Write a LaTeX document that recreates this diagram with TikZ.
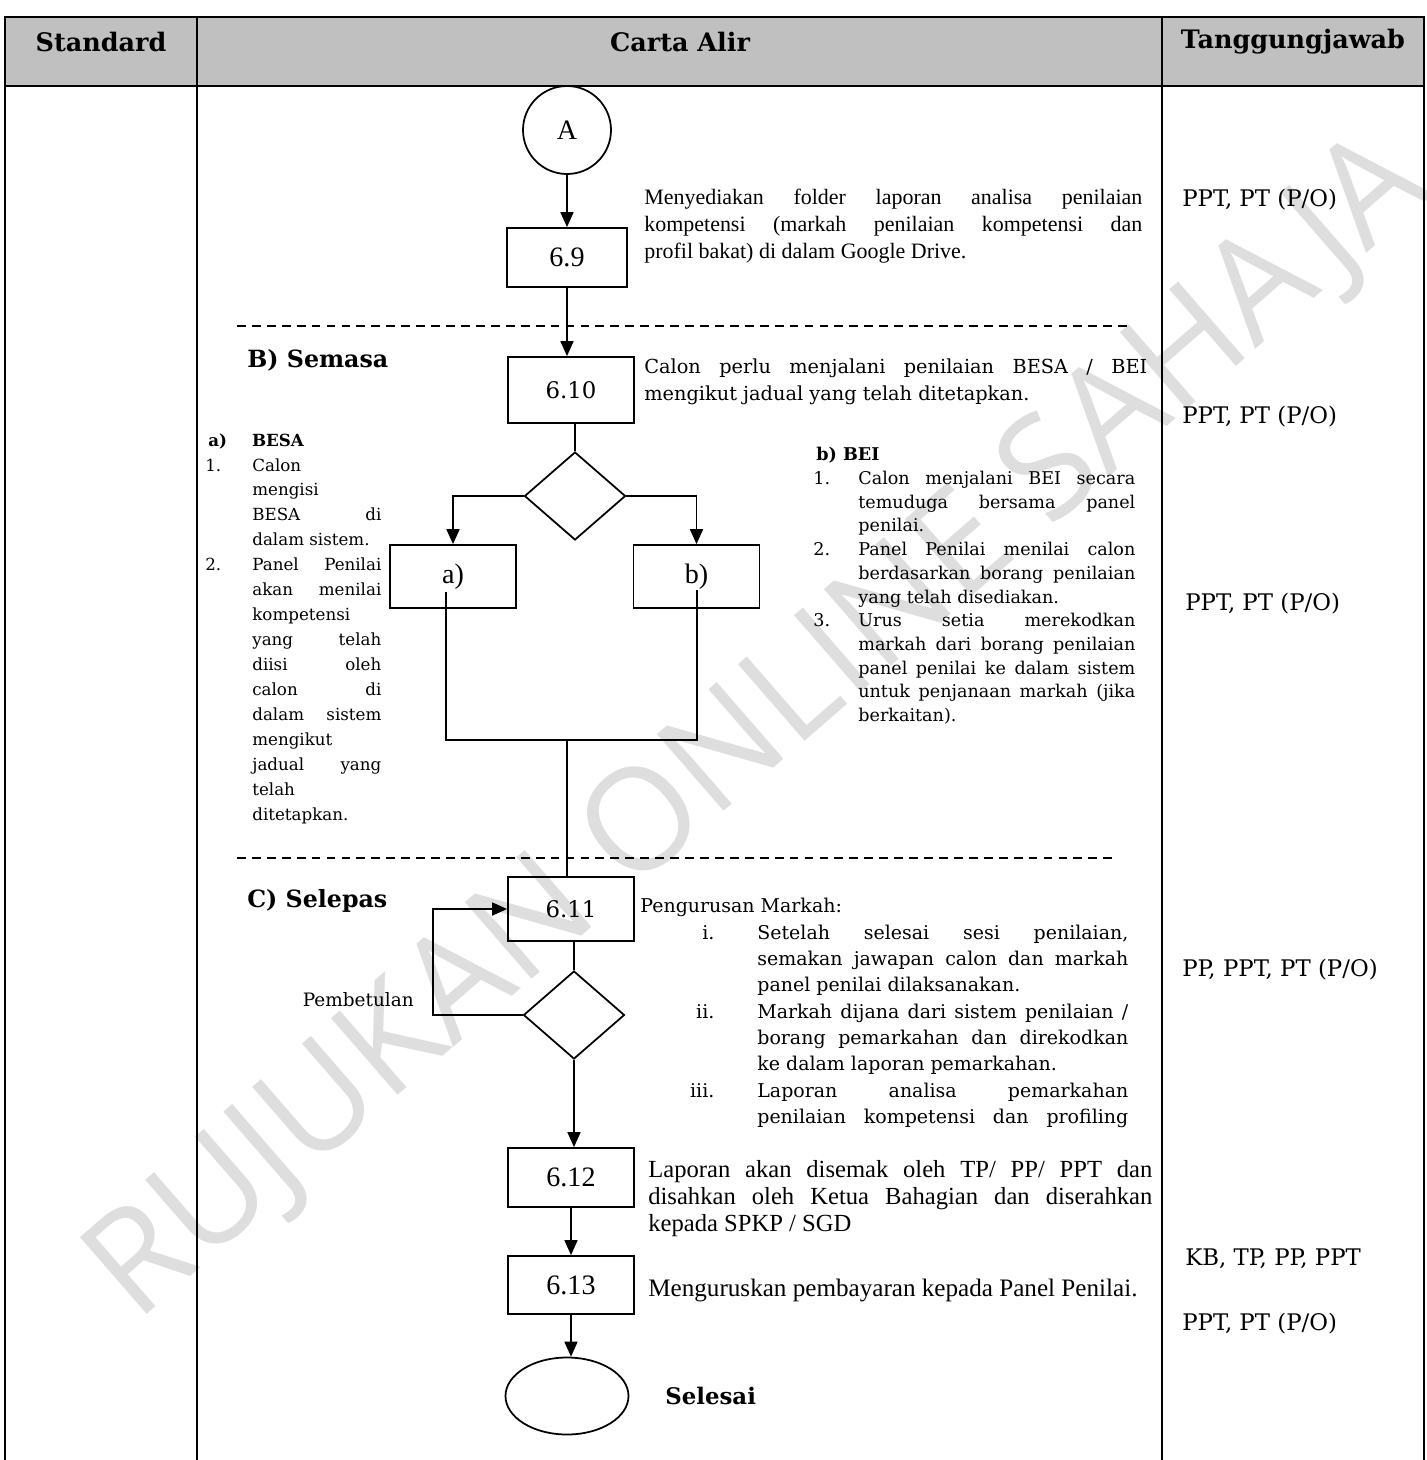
\documentclass[tikz,border=0pt]{standalone}
\usepackage{fontspec}
\setmainfont{DejaVu Serif}
\newfontfamily\tms{Liberation Serif}
\newfontfamily\wmk{Open Sans}
\usetikzlibrary{shapes.geometric,arrows.meta}

\definecolor{hdrgray}{HTML}{C0C0C0}
\definecolor{wmgray}{HTML}{DEDEDE}

\hyphenpenalty=10000
\exhyphenpenalty=10000

\newcommand{\numitem}[2]{\par\hangindent=#1\hangafter=1\noindent\makebox[#1][l]{#2}}
\newcommand{\romitem}[1]{\par\hangindent=2.34cm\hangafter=1\noindent\makebox[2.34cm][l]{\makebox[1.48cm][r]{#1}}}

\tikzset{
  flow/.style={line width=1pt},
  arr/.style={flow,-{Triangle[length=0.3cm,width=0.26cm]}},
  box/.style={draw,flow,minimum width=2.52cm,minimum height=1.2cm,inner sep=0pt,font=\tms\fontsize{16}{18}\selectfont},
  dec/.style={draw,flow,diamond,minimum width=2.02cm,minimum height=1.76cm,inner sep=0pt},
  desc/.style={anchor=north west,inner sep=0pt,align=justify},
  resp/.style={anchor=west,inner sep=0pt,font=\fontsize{13}{15}\selectfont},
  sect/.style={anchor=west,inner sep=0pt,font=\bfseries\fontsize{13.5}{16}\selectfont},
  hdr/.style={font=\bfseries\fontsize{14.5}{17}\selectfont},
  sepline/.style={line width=0.9pt,dash pattern=on 5pt off 3.5pt},
  grid/.style={line width=1.6pt},
}

\begin{document}
\begin{tikzpicture}
        \useasboundingbox (0,0) rectangle (28.54,-29.2);
        % watermark
        \node[rotate=41,text=wmgray,font=\wmk\fontsize{81}{81}\selectfont] (wm) at (15.2,-14.6) {RUJUKAN ONLINE SAHAJA};

        % table frame
        \fill[hdrgray] (0.1,-0.34) rectangle (28.48,-1.72);
        \draw[grid] (0.1,-29.4) -- (0.1,-0.34) -- (28.48,-0.34) -- (28.48,-29.4);
        \draw[grid] (0.1,-1.72) -- (28.48,-1.72);
        \draw[grid] (3.94,-0.34) -- (3.94,-29.4);
        \draw[grid] (23.24,-0.34) -- (23.24,-29.4);
        \node[hdr] (hstd) at (2.02,-0.84) {Standard};
        \node[hdr] (hcarta) at (13.6,-0.84) {Carta Alir};
        \node[hdr] (htgj) at (25.86,-0.84) {Tanggungjawab};

        \draw[sepline] (4.74,-6.52) -- (22.54,-6.52);
        \draw[sepline] (4.74,-17.16) -- (22.36,-17.16);

        % flow
        \node[circle,draw,flow,minimum size=1.76cm,inner sep=0pt,font=\tms\fontsize{16}{18}\selectfont] (a0) at (11.34,-2.6) {A};
        \node[box,minimum height=1.18cm,minimum width=2.4cm] (s69) at (11.34,-5.15) {6.9};
        \node[box,minimum height=1.32cm,font=\fontsize{13}{15}\selectfont] (s610) at (11.42,-7.8) {6.10};
        \node[dec] (q1) at (11.5,-9.92) {};
        \node[box,minimum height=1.26cm] (ba) at (9.06,-11.53) {a)};
        \node[box,minimum height=1.26cm] (bb) at (13.93,-11.53) {b)};
        \coordinate (aout) at (8.92,-11.84);
        \coordinate (bout) at (13.94,-11.8);
        \coordinate (mrg) at (11.34,-14.8);
        \node[box,minimum height=1.28cm,font=\fontsize{13}{15}\selectfont] (s611) at (11.42,-18.18) {6.11};
        \node[dec] (q2) at (11.48,-20.3) {};
        \node[box,minimum height=1.18cm] (s612) at (11.42,-23.55) {6.12};
        \node[box,minimum height=1.16cm] (s613) at (11.42,-25.7) {6.13};
        \node[ellipse,draw,flow,minimum width=2.46cm,minimum height=1.54cm] (fin) at (11.34,-27.92) {};

        \draw[arr] (a0) -- (s69);
        \draw[arr] (s69.south) -- (s69.south |- s610.north);
        \draw[flow] (q1.north |- s610.south) -- (q1.north);
        \draw[arr] (q1.west) -| (ba.north);
        \draw[arr] (q1.east) -| (bb.north);
        \draw[flow] (aout) |- (mrg) -| (bout);
        \draw[flow] (mrg) -- (mrg |- s611.north);
        \draw[flow] (q2.north |- s611.south) -- (q2.north);
        \draw[arr] (q2.west) -- ++(-1.8,0) |- (s611.west);
        \draw[arr] (q2.south) -- (q2.south |- s612.north);
        \draw[arr] (s612) -- (s613);
        \draw[arr] (s613.south) -- (s613.south |- fin.north);

        \node[anchor=east,inner sep=0pt,font=\fontsize{10.5}{13}\selectfont] (pbt) at (8.28,-20.0) {Pembetulan};
        \node[anchor=west,inner sep=0pt,font=\bfseries\fontsize{13}{15}\selectfont] (selesai) at (13.3,-27.92) {Selesai};
        \node[sect] (semasa) at (4.94,-7.2) {B) Semasa};
        \node[sect] (selepas) at (4.94,-18.02) {C) Selepas};

        % descriptions
        \node[desc,text width=9.96cm,font=\tms\fontsize{12.5}{15.4}\selectfont] (d69) at (12.88,-3.78) {Menyediakan folder laporan analisa penilaian\linebreak kompetensi (markah penilaian kompetensi dan\linebreak profil bakat) di dalam Google Drive.};
        \node[desc,text width=10.06cm,font=\fontsize{11}{15.4}\selectfont] (d610) at (12.88,-7.16) {Calon perlu menjalani penilaian BESA / BEI\linebreak mengikut jadual yang telah ditetapkan.};
        \node[desc,text width=3.52cm,font=\fontsize{9.5}{14.2}\selectfont] (dbesa) at (4.1,-8.66) {%
          \hspace*{0.06cm}\textbf{a)}\hspace{0.5cm}\textbf{BESA}
          \numitem{0.94cm}{1.}Calon\linebreak mengisi\linebreak BESA di\linebreak dalam sistem.
          \numitem{0.94cm}{2.}Panel Penilai\linebreak akan menilai\linebreak kompetensi\linebreak yang telah\linebreak diisi oleh\linebreak calon di\linebreak dalam sistem\linebreak mengikut\linebreak jadual yang\linebreak telah\linebreak ditetapkan.\par};
        \node[desc,text width=6.44cm,font=\fontsize{10}{13.5}\selectfont] (dbei) at (16.26,-8.94) {%
          \hspace*{0.06cm}\textbf{b) BEI}
          \numitem{0.9cm}{1.}Calon menjalani BEI secara\linebreak temuduga bersama panel\linebreak penilai.
          \numitem{0.9cm}{2.}Panel Penilai menilai calon\linebreak berdasarkan borang penilaian\linebreak yang telah disediakan.
          \numitem{0.9cm}{3.}Urus setia merekodkan\linebreak markah dari borang penilaian\linebreak panel penilai ke dalam sistem\linebreak untuk penjanaan markah (jika\linebreak berkaitan).\par};
        \node[desc,text width=9.76cm,font=\fontsize{10.8}{15}\selectfont] (dmark) at (12.8,-17.96) {%
          Pengurusan Markah:
          \romitem{i.}Setelah selesai sesi penilaian,\linebreak semakan jawapan calon dan markah\linebreak panel penilai dilaksanakan.
          \romitem{ii.}Markah dijana dari sistem penilaian /\linebreak borang pemarkahan dan direkodkan\linebreak ke dalam laporan pemarkahan.
          \romitem{iii.}Laporan analisa pemarkahan\linebreak penilaian kompetensi dan profiling{\parfillskip=0pt\par}};
        \node[desc,text width=10.08cm,font=\tms\fontsize{14}{15.4}\selectfont] (d612) at (12.96,-23.2) {Laporan akan disemak oleh TP/ PP/ PPT dan\linebreak disahkan oleh Ketua Bahagian dan diserahkan\linebreak kepada SPKP / SGD};
        \node[anchor=west,inner sep=0pt,font=\tms\fontsize{14.3}{15.4}\selectfont] (d613) at (12.96,-25.8) {Menguruskan pembayaran kepada Panel Penilai.};

        % responsibility
        \node[resp] (r1) at (23.64,-4.0) {PPT, PT (P/O)};
        \node[resp] (r2) at (23.64,-8.34) {PPT, PT (P/O)};
        \node[resp] (r3) at (23.7,-12.08) {PPT, PT (P/O)};
        \node[resp] (r4) at (23.64,-19.4) {PP, PPT, PT (P/O)};
        \node[resp] (r5) at (23.7,-25.18) {KB, TP, PP, PPT};
        \node[resp] (r6) at (23.64,-26.48) {PPT, PT (P/O)};
\end{tikzpicture}
\end{document}
